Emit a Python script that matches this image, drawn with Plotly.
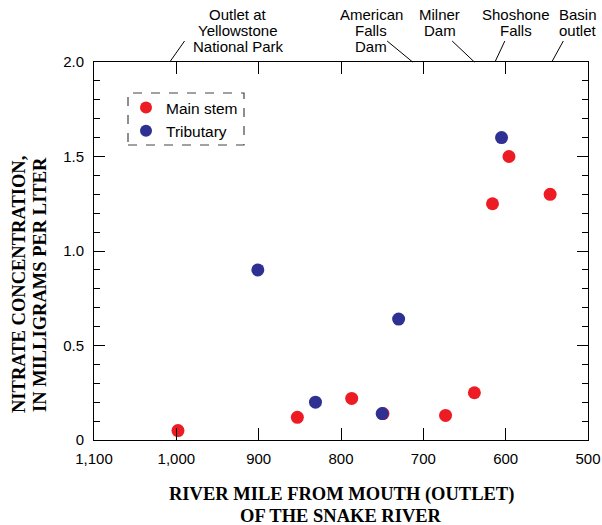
import plotly.graph_objects as go

# Data
main_mile = [998, 853, 787, 749, 673, 638, 616, 596, 546]
main_no3 = [0.05, 0.12, 0.22, 0.14, 0.13, 0.25, 1.25, 1.5, 1.3]
trib_mile = [901, 831, 750, 730, 605]
trib_no3 = [0.90, 0.20, 0.14, 0.64, 1.60]

x_ticks = [1100, 1000, 900, 800, 700, 600, 500]
x_ticktext = ["1,100", "1,000", "900", "800", "700", "600", "500"]
y_ticks = [0, 0.5, 1.0, 1.5, 2.0]
y_ticktext = ["0", "0.5", "1.0", "1.5", "2.0"]

x_title_lines = ["RIVER MILE FROM MOUTH (OUTLET)", "OF THE SNAKE RIVER"]
y_title_lines = ["NITRATE CONCENTRATION,", "IN MILLIGRAMS PER LITER"]

# Landmark labels (one list of lines per landmark)
landmark_lines = [["Outlet at", "Yellowstone", "National Park"],
                  ["American", "Falls", "Dam"],
                  ["Milner", "Dam"],
                  ["Shoshone", "Falls"],
                  ["Basin", "outlet"]]
landmark_label_mile = [925, 763, 680, 587, 512]
landmark_axis_mile = [1008, 713, 638, 613, 544]
landmark_end_mile = [990, 744, 665, 601, 530]

RED = "#ED1C24"
BLUE = "#2E3192"
SANS = "Liberation Sans, Arial, sans-serif"
SERIF = "Liberation Serif, Times New Roman, serif"

L, R, T, B = 94, 14, 62, 85
W, H = 602, 525
PW, PH = W - L - R, H - T - B


def py(ypix):
    return (H - B - ypix) / PH


def px(xpix):
    return (xpix - L) / PW


fig = go.Figure()
fig.add_trace(go.Scatter(x=main_mile, y=main_no3, mode="markers", name="Main stem",
                         marker=dict(color=RED, size=13)))
fig.add_trace(go.Scatter(x=trib_mile, y=trib_no3, mode="markers", name="Tributary",
                         marker=dict(color=BLUE, size=13)))

fig.update_layout(
    width=W, height=H,
    margin=dict(l=L, r=R, t=T, b=B, autoexpand=False),
    plot_bgcolor="white", paper_bgcolor="white",
    font=dict(family=SANS, size=15, color="black"),
    showlegend=True,
    legend=dict(x=px(126), y=py(91), xanchor="left", yanchor="top",
                bgcolor="rgba(0,0,0,0)", borderwidth=0,
                font=dict(family=SANS, size=15.5), itemsizing="constant",
                tracegroupgap=0),
)

fig.update_xaxes(
    range=[1100, 500], tickvals=x_ticks, ticktext=x_ticktext, automargin=False,
    showline=True, linecolor="black", linewidth=1, mirror="ticks",
    ticks="inside", ticklen=12, tickcolor="black", showgrid=False, zeroline=False,
    tickfont=dict(family=SANS, size=15), ticklabelstandoff=5,
)
fig.update_yaxes(
    range=[0, 2.0], tickvals=y_ticks, ticktext=y_ticktext, automargin=False,
    showline=True, linecolor="black", linewidth=1, mirror="allticks",
    ticks="inside", ticklen=11, tickcolor="black", showgrid=False, zeroline=False,
    minor=dict(dtick=0.1, ticks="inside", ticklen=6, tickcolor="black", showgrid=False),
    tickfont=dict(family=SANS, size=15), ticklabelstandoff=6,
)

# Axis titles
for i, line in enumerate(x_title_lines):
    fig.add_annotation(x=px(341), y=py(494 + 22 * i), xref="paper", yref="paper",
                       text="<b>" + line + "</b>", showarrow=False,
                       xanchor="center", yanchor="middle",
                       font=dict(family=SERIF, size=18.5))
for i, line in enumerate(y_title_lines):
    fig.add_annotation(x=px(19 + 21 * i), y=py(285), xref="paper", yref="paper",
                       text="<b>" + line + "</b>", showarrow=False, textangle=-90,
                       xanchor="center", yanchor="middle",
                       font=dict(family=SERIF, size=18.5))

# Dashed legend box
fig.add_shape(type="rect", xref="paper", yref="paper",
              x0=px(128), x1=px(244), y0=py(145), y1=py(93),
              line=dict(color="#444", width=1.2, dash="dash"))

# Landmark leader lines and labels
for am, em in zip(landmark_axis_mile, landmark_end_mile):
    fig.add_shape(type="line", xref="x", yref="paper", x0=am, y0=1.0, x1=em, y1=py(41),
                  line=dict(color="black", width=1))

for lines, lx in zip(landmark_lines, landmark_label_mile):
    for i, line in enumerate(lines):
        fig.add_annotation(x=lx, y=py(15 + 16 * i), xref="x", yref="paper", text=line,
                           showarrow=False, yanchor="middle", xanchor="center",
                           font=dict(family=SANS, size=15))

fig.write_html("out.html", config={"displayModeBar": False},
               post_script="document.body.style.margin='0';document.body.style.overflow='hidden';")
